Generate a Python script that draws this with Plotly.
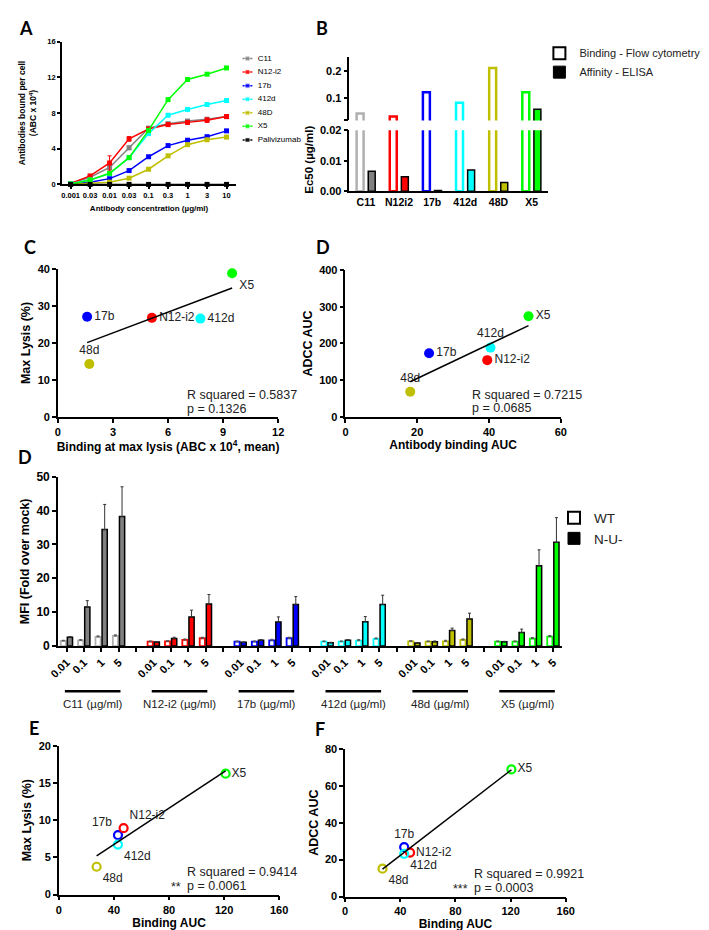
import numpy as np
import plotly.graph_objects as go

W, H = 709, 930
def X(px): return px / W
def Y(py): return 1 - py / H

FONT = "Liberation Sans, Arial, sans-serif"

# ---------------- Panel A data ----------------
conc_labels_A = ["0.001", "0.03", "0.01", "0.03", "0.1", "0.3", "1", "3", "10"]
names_A = ["C11", "N12-i2", "17b", "412d", "48D", "X5", "Palivizumab"]
abc_C11 = [0.1, 0.8, 1.9, 4.1, 6.3, 6.8, 7.1, 7.3, 7.6]
abc_N12 = [0.1, 0.95, 2.4, 5.1, 6.2, 6.7, 6.95, 7.2, 7.6]
abc_17b = [0.05, 0.25, 0.65, 1.55, 3.1, 4.35, 4.95, 5.35, 6.0]
abc_412d = [0.1, 0.5, 1.2, 3.0, 5.7, 7.75, 8.4, 8.95, 9.4]
abc_48D = [0.02, 0.1, 0.25, 0.7, 1.7, 3.2, 4.45, 5.0, 5.3]
abc_X5 = [0.05, 0.5, 1.25, 3.0, 6.05, 9.5, 11.75, 12.35, 13.05]
abc_Pali = [0, 0, 0, 0, 0, 0, 0, 0, 0]
err_C11 = [0.05, 0.1, 0.5, 0.2, 0.2, 0.15, 0.15, 0.2, 0.2]
err_N12 = [0.05, 0.1, 0.8, 0.25, 0.2, 0.15, 0.2, 0.25, 0.2]
err_17b = [0.02, 0.05, 0.1, 0.1, 0.1, 0.1, 0.1, 0.1, 0.1]
err_412d = [0.02, 0.05, 0.1, 0.1, 0.1, 0.1, 0.1, 0.1, 0.1]
err_48D = [0.02, 0.05, 0.05, 0.1, 0.1, 0.1, 0.1, 0.1, 0.1]
err_X5 = [0.02, 0.05, 0.1, 0.15, 0.1, 0.1, 0.1, 0.1, 0.1]
err_Pali = [0, 0, 0, 0, 0, 0, 0, 0, 0]

# ---------------- Panel B data ----------------
names_B = ["C11", "N12i2", "17b", "412d", "48D", "X5"]
ec50_binding = [0.045, 0.034, 0.123, 0.084, 0.211, 0.123]
ec50_affinity = [0.0066, 0.0048, 0.0003, 0.0070, 0.0029, 0.061]

# ---------------- Panel C data ----------------
names_C = ["17b", "N12-i2", "412d", "X5", "48d"]
binding_at_max = [1.59, 5.12, 7.76, 9.49, 1.71]
max_lysis_C = [27.1, 26.8, 26.6, 38.9, 14.3]

# ---------------- Panel D (upper) data ----------------
names_D = ["17b", "412d", "N12-i2", "X5", "48d"]
binding_auc_D = [23.3, 40.4, 39.5, 51.0, 18.05]
adcc_auc_D = [173.5, 188.8, 154.6, 274.0, 68.3]

# ---------------- Panel D (lower) data ----------------
groups_Dl = ["C11", "N12-i2", "17b", "412d", "48d", "X5"]
conc_Dl = ["0.01", "0.1", "1", "5"]
wt_C11 = [1.5, 1.7, 2.7, 3.0]
wt_N12 = [1.3, 1.4, 1.8, 2.3]
wt_17b = [1.3, 1.3, 1.7, 2.3]
wt_412d = [1.3, 1.3, 1.6, 2.1]
wt_48d = [1.4, 1.3, 1.4, 1.8]
wt_X5 = [1.3, 1.3, 2.2, 2.8]
nu_C11 = [2.6, 11.5, 34.4, 38.2]
nu_N12 = [1.2, 2.2, 8.6, 12.4]
nu_17b = [1.1, 1.7, 7.1, 12.3]
nu_412d = [1.0, 1.7, 7.2, 12.3]
nu_48d = [0.9, 1.3, 4.6, 8.0]
nu_X5 = [1.3, 4.0, 23.7, 30.6]
nu_err_C11 = [0.2, 1.9, 7.4, 8.8]
nu_err_N12 = [0.1, 0.4, 2.0, 2.8]
nu_err_17b = [0.1, 0.2, 1.5, 2.3]
nu_err_412d = [0.1, 0.2, 1.5, 2.7]
nu_err_48d = [0.1, 0.2, 0.7, 1.7]
nu_err_X5 = [0.1, 1.0, 4.7, 7.3]
wt_err = [0.2, 0.2, 0.3, 0.3]

# ---------------- Panel E data ----------------
names_E = ["48d", "17b", "N12-i2", "412d", "X5"]
binding_auc_E = [27.4, 42.9, 47.0, 42.9, 121.1]
max_lysis_E = [3.74, 8.0, 8.92, 6.72, 16.26]

# ---------------- Panel F data ----------------
names_F = ["48d", "17b", "N12-i2", "412d", "X5"]
binding_auc_F = [27.1, 42.8, 47.1, 42.8, 120.6]
adcc_auc_F = [15.1, 26.8, 23.8, 23.1, 68.8]

# ---------------- colours ----------------
COL = {"c11": "#808080", "n12-i2": "#FF0000", "n12i2": "#FF0000", "17b": "#0000FF",
       "412d": "#00FFFF", "48d": "#BFBF00", "x5": "#00FF00", "palivizumab": "#000000"}
OPEN_COL = dict(COL, c11="#B0B0B0")
def col(n): return COL[n.lower()]

fig = go.Figure()

# ================= Panel A =================
series_A = [abc_C11, abc_N12, abc_17b, abc_412d, abc_48D, abc_X5, abc_Pali]
errs_A = [err_C11, err_N12, err_17b, err_412d, err_48D, err_X5, err_Pali]
xa = list(range(len(conc_labels_A)))
for name, vals, err in zip(names_A, series_A, errs_A):
    c = col(name)
    fig.add_trace(go.Scatter(
        x=xa, y=vals, mode="lines+markers", xaxis="x", yaxis="y",
        line=dict(color=c, width=1.5),
        marker=dict(symbol="square", size=5, color=c),
        error_y=dict(type="data", array=err, color=c, thickness=1, width=2),
        cliponaxis=False, showlegend=False))

# mini legend for A (drawn on its own hidden axes)
for i, name in enumerate(names_A):
    c = col(name)
    fig.add_trace(go.Scatter(
        x=[3.5, 8.5, 13.5], y=[-i, -i, -i], mode="lines+markers", xaxis="x9", yaxis="y9",
        line=dict(color=c, width=1.5), marker=dict(symbol="square", size=[0, 5, 0], color=c),
        showlegend=False, hoverinfo="skip", cliponaxis=False))
fig.add_trace(go.Scatter(
    x=[19] * len(names_A), y=[-i for i in range(len(names_A))], mode="text",
    text=names_A, textposition="middle right", xaxis="x9", yaxis="y9",
    textfont=dict(family=FONT, size=8, color="black"),
    showlegend=False, cliponaxis=False))

# ================= Panel B =================
xb = list(range(len(names_B)))
for xa_, ya_ in [("x2", "y2"), ("x3", "y3")]:
    fig.add_trace(go.Bar(
        x=xb, y=ec50_binding, width=0.21, offset=-0.28, xaxis=xa_, yaxis=ya_,
        marker=dict(color="white", line=dict(color=[OPEN_COL[n.lower()] for n in names_B], width=2.5)),
        showlegend=False))
    fig.add_trace(go.Bar(
        x=xb, y=ec50_affinity, width=0.21, offset=0.07, xaxis=xa_, yaxis=ya_,
        marker=dict(color=[col(n) for n in names_B], line=dict(color="black", width=1.5)),
        showlegend=False))
fig.add_trace(go.Bar(x=[None], y=[None], xaxis="x2", yaxis="y2", name="Binding - Flow cytometry",
                     marker=dict(color="white", line=dict(color="black", width=2)), legend="legend2"))
fig.add_trace(go.Bar(x=[None], y=[None], xaxis="x2", yaxis="y2", name="Affinity - ELISA",
                     marker=dict(color="black", line=dict(color="black", width=1)), legend="legend2"))

# ================= scatter helper =================
def scatter_panel(xv, yv, names, xa_, ya_, positions, open_markers=False):
    fig.add_trace(go.Scatter(
        x=xv, y=yv, mode="markers+text", xaxis=xa_, yaxis=ya_,
        text=names, textposition=positions,
        textfont=dict(family=FONT, size=12, color="#222"),
        marker=(dict(symbol="circle-open", size=8, line=dict(width=2.2), color=[col(n) for n in names])
                if open_markers else dict(size=10, color=[col(n) for n in names])),
        cliponaxis=False, showlegend=False))
    k, b = np.polyfit(xv, yv, 1)
    xs = np.array([min(xv), max(xv)])
    fig.add_trace(go.Scatter(x=xs, y=k * xs + b, mode="lines", xaxis=xa_, yaxis=ya_,
                             line=dict(color="black", width=1.5), showlegend=False, cliponaxis=False))

# ================= Panel C =================
scatter_panel(binding_at_max, max_lysis_C, names_C, "x4", "y4",
              ["middle right", "middle right", "middle right", "bottom right", "top center"])
# ================= Panel D upper =================
scatter_panel(binding_auc_D, adcc_auc_D, names_D, "x5", "y5",
              ["middle right", "top center", "middle right", "middle right", "top center"])

# ================= Panel D lower =================
wt_all = [wt_C11, wt_N12, wt_17b, wt_412d, wt_48d, wt_X5]
nu_all = [nu_C11, nu_N12, nu_17b, nu_412d, nu_48d, nu_X5]
nu_err_all = [nu_err_C11, nu_err_N12, nu_err_17b, nu_err_412d, nu_err_48d, nu_err_X5]
slot = len(conc_Dl) + 1
xs_d, lab_d, wt_v, nu_v, nu_e, wt_e, fill_c, open_c = [], [], [], [], [], [], [], []
for g, gname in enumerate(groups_Dl):
    for ci in range(len(conc_Dl)):
        xs_d.append(g * slot + ci); lab_d.append(conc_Dl[ci])
        wt_v.append(wt_all[g][ci]); nu_v.append(nu_all[g][ci])
        nu_e.append(nu_err_all[g][ci]); wt_e.append(wt_err[ci])
        fill_c.append(col(gname)); open_c.append(OPEN_COL[gname.lower()])
fig.add_trace(go.Bar(x=xs_d, y=wt_v, width=0.3, offset=-0.34, xaxis="x6", yaxis="y6",
                     marker=dict(color="white", line=dict(color=open_c, width=1.8)),
                     error_y=dict(type="data", array=wt_e, arrayminus=[0] * len(wt_e), symmetric=False,
                                  color="#555", thickness=1, width=1.5),
                     showlegend=False))
fig.add_trace(go.Bar(x=xs_d, y=nu_v, width=0.3, offset=0.04, xaxis="x6", yaxis="y6",
                     marker=dict(color=fill_c, line=dict(color="black", width=1.5)),
                     error_y=dict(type="data", array=nu_e, arrayminus=[0] * len(nu_e), symmetric=False,
                                  color="#333", thickness=1, width=1.5),
                     showlegend=False))
fig.add_trace(go.Bar(x=[None], y=[None], xaxis="x6", yaxis="y6", name="WT",
                     marker=dict(color="white", line=dict(color="black", width=2)), legend="legend3"))
fig.add_trace(go.Bar(x=[None], y=[None], xaxis="x6", yaxis="y6", name="N-U-",
                     marker=dict(color="black", line=dict(color="black", width=1)), legend="legend3"))

# ================= Panel E & F =================
scatter_panel(binding_auc_E, max_lysis_E, names_E, "x7", "y7",
              ["bottom right", "top left", "top right", "bottom right", "middle right"], open_markers=True)
scatter_panel(binding_auc_F, adcc_auc_F, names_F, "x8", "y8",
              ["bottom right", "top center", "middle right", "bottom right", "middle right"], open_markers=True)

# ================= axes =================
def axis(domain, rng, tsize=11, **kw):
    d = dict(domain=domain, range=rng, showline=True, linecolor="black", linewidth=1.5,
             ticks="outside", ticklen=4, tickwidth=1.5, tickcolor="black",
             showgrid=False, zeroline=False,
             tickfont=dict(family=FONT, size=tsize, color="black", weight="bold"))
    d.update(kw)
    return d

def ttl(text, size=12, standoff=None):
    t = dict(text=text, font=dict(family=FONT, size=size, color="black", weight="bold"))
    if standoff is not None:
        t["standoff"] = standoff
    return t

MINOR = dict(ticks="outside", ticklen=4, tickwidth=1.5, tickcolor="black", showgrid=False)

fig.update_layout(
    xaxis=axis([X(46), X(225)], [-0.45, 8.5], tsize=7.5, anchor="y", tickvals=xa, ticktext=conc_labels_A,
               ticklen=3, title=ttl("Antibody concentration (µg/ml)", 8, 6)),
    yaxis=axis([Y(172), Y(27)], [0, 16], tsize=7.5, anchor="x", tickvals=[0, 4, 8, 12, 16], ticklen=3,
               title=ttl("Antibodies bound per cell<br>(ABC x 10<sup>4</sup>)", 8.5, 9)),
    xaxis2=axis([X(341), X(545)], [-0.5, 5.5], tsize=10.5, anchor="y2", tickvals=xb, ticktext=names_B, ticks=""),
    yaxis2=axis([Y(179), Y(117)], [0, 0.02], anchor="x2", tickvals=[0, 0.01, 0.02],
                ticktext=["0.00", "0.01", "0.02"]),
    xaxis3=dict(domain=[X(341), X(545)], matches="x2", anchor="y3", visible=False),
    yaxis3=axis([Y(107), Y(43)], [0.02, 0.25], anchor="x3", tickvals=[0.1, 0.2],
                ticktext=["0.1", "0.2"], minor=dict(MINOR, tick0=0.02, dtick=1)),
    xaxis4=axis([X(42), X(268)], [0, 12], anchor="y4", tickvals=[0, 3, 6, 9, 12],
                title=ttl("Binding at max lysis (ABC x 10<sup>4</sup>, mean)", 12, 2)),
    yaxis4=axis([Y(408), Y(258)], [0, 40], anchor="x4", tickvals=[0, 10, 20, 30, 40],
                title=ttl("Max Lysis (%)", 12.5, 4)),
    xaxis5=axis([X(337), X(558)], [0, 60], anchor="y5", tickvals=[0, 20, 40, 60],
                title=ttl("Antibody binding AUC", 12, 2)),
    yaxis5=axis([Y(408), Y(259)], [0, 400], anchor="x5", tickvals=[0, 100, 200, 300, 400],
                title=ttl("ADCC AUC", 12.5, 4)),
    xaxis6=axis([X(42), X(559)], [-0.5, 28.5], anchor="y6", tickvals=xs_d, ticktext=lab_d,
                tickangle=-45, tsize=11, minor=dict(MINOR, tick0=0, dtick=1)),
    yaxis6=axis([Y(640.7), Y(468.7)], [0, 50], anchor="x6", tickvals=[0, 10, 20, 30, 40, 50], tsize=12,
                title=ttl("MFI (Fold over mock)", 12.5, 4)),
    xaxis7=axis([X(43), X(269)], [0, 160], anchor="y7", tickvals=[0, 40, 80, 120, 160],
                title=ttl("Binding AUC", 12, 2)),
    yaxis7=axis([Y(893), Y(742)], [0, 20], anchor="x7", tickvals=[0, 5, 10, 15, 20],
                title=ttl("Max Lysis (%)", 12.5, 4)),
    xaxis8=axis([X(336.7), X(563)], [0, 160], anchor="y8", tickvals=[0, 40, 80, 120, 160],
                title=ttl("Binding AUC", 12, 2)),
    yaxis8=axis([Y(895), Y(745)], [0, 80], anchor="x8", tickvals=[0, 20, 40, 60, 80],
                title=ttl("ADCC AUC", 12.5, 4)),
    xaxis9=dict(domain=[X(228), X(300)], range=[0, 72], visible=False, anchor="y9"),
    yaxis9=dict(domain=[Y(133), Y(38)], range=[-6.45, 0.45], visible=False, anchor="x9"),
)

# ================= annotations =================
ann = []
LETTER_FONT = dict(family="Lato, Open Sans, sans-serif", size=18, color="black", weight="bold")
# (letter, x px, y px, y anchor)
panel_letters = [("A", 9, 0, "top"), ("B", 313, 0, "top"),
                 ("C", 13, 236, "middle"), ("D", 314, 236, "middle"),
                 ("D", 8, 449, "middle"), ("E", 17, 724, "middle"), ("F", 311, 725, "middle")]
for t, px, py, ya_ in panel_letters:
    ann.append(dict(text=t, x=X(px), y=Y(py), xref="paper", yref="paper", showarrow=False,
                    xanchor="center", yanchor=ya_, font=LETTER_FONT))

ann.append(dict(text="Ec50 (µg/ml)", x=X(300), y=Y(110), xref="paper", yref="paper", showarrow=False,
                textangle=-90, font=dict(family=FONT, size=11.5, color="black", weight="bold")))

stat_font = dict(family=FONT, size=12.5, color="#222")
stats = [("x4", "y4", 6.9, 5.8, "R squared = 0.5837", "left"),
         ("x4", "y4", 6.9, 2.2, "p = 0.1326", "left"),
         ("x5", "y5", 34.6, 59, "R squared = 0.7215", "left"),
         ("x5", "y5", 34.6, 23, "p = 0.0685", "left"),
         ("x7", "y7", 91.6, 3.08, "R squared = 0.9414", "left"),
         ("x7", "y7", 91.6, 1.19, "p = 0.0061", "left"),
         ("x7", "y7", 90.0, 1.0, "**", "right"),
         ("x8", "y8", 91.9, 12.4, "R squared = 0.9921", "left"),
         ("x8", "y8", 91.9, 4.8, "p = 0.0003", "left"),
         ("x8", "y8", 90.5, 4.0, "***", "right")]
for xr, yr, xv, yv, t, anc in stats:
    ann.append(dict(text=t, x=xv, y=yv, xref=xr, yref=yr, showarrow=False, xanchor=anc,
                    yanchor="middle", font=stat_font))

shapes = []
for g, gname in enumerate(groups_Dl):
    x0 = g * slot - 0.1
    x1 = g * slot + len(conc_Dl) - 1 + 0.1
    shapes.append(dict(type="line", xref="x6", yref="paper", x0=x0, x1=x1, y0=Y(686.5), y1=Y(686.5),
                       line=dict(color="black", width=2.5)))
    ann.append(dict(text=f"{gname} (µg/ml)", x=(x0 + x1) / 2, y=Y(700), xref="x6", yref="paper",
                    showarrow=False, xanchor="center", yanchor="middle",
                    font=dict(family=FONT, size=11.5, color="#222")))

fig.update_layout(
    width=W, height=H, margin=dict(l=0, r=0, t=0, b=0),
    paper_bgcolor="white", plot_bgcolor="white",
    font=dict(family=FONT, color="black"),
    barmode="overlay", showlegend=True,
    annotations=ann, shapes=shapes,
    legend2=dict(x=X(536), y=Y(24), xanchor="left", yanchor="top", bgcolor="rgba(0,0,0,0)",
                 font=dict(family=FONT, size=11, color="#222"), itemwidth=30),
    legend3=dict(x=X(551), y=Y(495), xanchor="left", yanchor="top", bgcolor="rgba(0,0,0,0)",
                 font=dict(family=FONT, size=13.5, color="#222"), itemwidth=30),
)

fig.write_html("out.html")
